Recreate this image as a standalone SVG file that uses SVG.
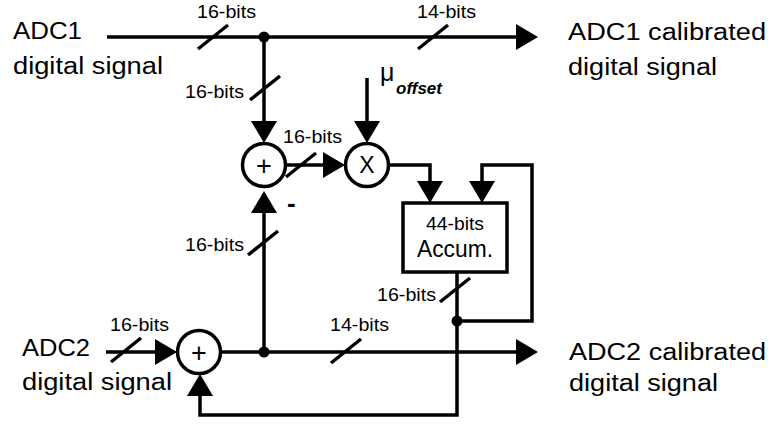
<svg xmlns="http://www.w3.org/2000/svg" xmlns:xlink="http://www.w3.org/1999/xlink" width="768" height="426" viewBox="0 0 768 426">
<style>
.w{fill:none;stroke:#000;stroke-width:3.5}
.s{stroke:#000;stroke-width:3.5}
.big{font-family:"Liberation Sans",Arial,sans-serif;font-size:23.5px;fill:#000}
.sm{font-family:"Liberation Sans",Arial,sans-serif;font-size:18px;fill:#000}
.op{font-family:"Liberation Sans",Arial,sans-serif;font-size:27px;fill:#000}
.dot{fill:#000}
</style>
<defs>
<marker id="ah" markerUnits="userSpaceOnUse" markerWidth="22" markerHeight="26" viewBox="0 0 22 26" refX="0" refY="13" orient="auto"><path d="M0,0 L22,13 L0,26 z" fill="#000"/></marker>
<line id="slash" x1="-15" y1="12" x2="15" y2="-12" class="s"/>
</defs>
<rect width="768" height="426" fill="#fff"/>
<g id="connectors">
<path class="w" d="M107,37 H516" marker-end="url(#ah)"/>
<path class="w" d="M264,37 V121" marker-end="url(#ah)"/>
<path class="w" d="M285.5,165 H323" marker-end="url(#ah)"/>
<path class="w" d="M367,78 V121" marker-end="url(#ah)"/>
<path class="w" d="M388.5,165 H430 V181" marker-end="url(#ah)"/>
<path class="w" d="M457,272 V415 H200 V396" marker-end="url(#ah)"/>
<path class="w" d="M457,321 H532 V165 H482 V181" marker-end="url(#ah)"/>
<path class="w" d="M106,352 H155" marker-end="url(#ah)"/>
<path class="w" d="M220.5,352 H516" marker-end="url(#ah)"/>
<path class="w" d="M264,352 V213" marker-end="url(#ah)"/>
<circle class="dot" cx="264" cy="37" r="5.5"/>
<circle class="dot" cx="457" cy="321" r="5.5"/>
<circle class="dot" cx="264" cy="352" r="5.5"/>
<use xlink:href="#slash" x="213" y="37"/>
<use xlink:href="#slash" x="433" y="37"/>
<use xlink:href="#slash" x="265" y="88"/>
<use xlink:href="#slash" x="301" y="165"/>
<use xlink:href="#slash" x="263" y="243"/>
<use xlink:href="#slash" x="455" y="290"/>
<use xlink:href="#slash" x="126" y="350"/>
<use xlink:href="#slash" x="346" y="351"/>
<text class="sm" x="197" y="18" textLength="59" lengthAdjust="spacingAndGlyphs">16-bits</text>
<text class="sm" x="417" y="18" textLength="59" lengthAdjust="spacingAndGlyphs">14-bits</text>
<text class="sm" x="185" y="98" textLength="59" lengthAdjust="spacingAndGlyphs">16-bits</text>
<text class="sm" x="283" y="143" textLength="59" lengthAdjust="spacingAndGlyphs">16-bits</text>
<text class="sm" x="185" y="251" textLength="59" lengthAdjust="spacingAndGlyphs">16-bits</text>
<text class="sm" x="377" y="301" textLength="59" lengthAdjust="spacingAndGlyphs">16-bits</text>
<text class="sm" x="110" y="331" textLength="59" lengthAdjust="spacingAndGlyphs">16-bits</text>
<text class="sm" x="330" y="331" textLength="59" lengthAdjust="spacingAndGlyphs">14-bits</text>
<text x="380" y="81" font-family="'Liberation Sans',Arial,sans-serif" font-size="25">μ<tspan x="396" y="94" font-size="17" font-style="italic" font-weight="bold">offset</tspan></text>
<text x="287" y="212" font-family="'Liberation Sans',Arial,sans-serif" font-size="26" font-weight="bold">-</text>
</g>
<g id="adc1-in">
<text class="big" x="13" y="39" textLength="69" lengthAdjust="spacingAndGlyphs">ADC1</text>
<text class="big" x="13" y="74" textLength="150" lengthAdjust="spacingAndGlyphs">digital signal</text>
</g>
<g id="adc1-out">
<text class="big" x="568" y="40" textLength="198" lengthAdjust="spacingAndGlyphs">ADC1 calibrated</text>
<text class="big" x="568" y="75" textLength="149" lengthAdjust="spacingAndGlyphs">digital signal</text>
</g>
<g id="adc2-in">
<text class="big" x="22" y="356" textLength="68" lengthAdjust="spacingAndGlyphs">ADC2</text>
<text class="big" x="22" y="390" textLength="150" lengthAdjust="spacingAndGlyphs">digital signal</text>
</g>
<g id="adc2-out">
<text class="big" x="569" y="360" textLength="197" lengthAdjust="spacingAndGlyphs">ADC2 calibrated</text>
<text class="big" x="569" y="391" textLength="149" lengthAdjust="spacingAndGlyphs">digital signal</text>
</g>
<g id="sum1">
<circle class="w" cx="264" cy="165" r="21.5"/>
<text class="op" x="264" y="174.5" text-anchor="middle">+</text>
</g>
<g id="mult">
<circle class="w" cx="367" cy="165" r="21.5"/>
<text x="367" y="173" text-anchor="middle" font-family="'Liberation Sans',Arial,sans-serif" font-size="23">X</text>
</g>
<g id="accum">
<rect class="w" x="403" y="203" width="104" height="69"/>
<text class="sm" x="455" y="230" text-anchor="middle" textLength="58" lengthAdjust="spacingAndGlyphs">44-bits</text>
<text class="big" x="455" y="257" text-anchor="middle" textLength="76" lengthAdjust="spacingAndGlyphs">Accum.</text>
</g>
<g id="sum2">
<circle class="w" cx="199" cy="352" r="21.5"/>
<text class="op" x="199" y="361.5" text-anchor="middle">+</text>
</g>
</svg>
